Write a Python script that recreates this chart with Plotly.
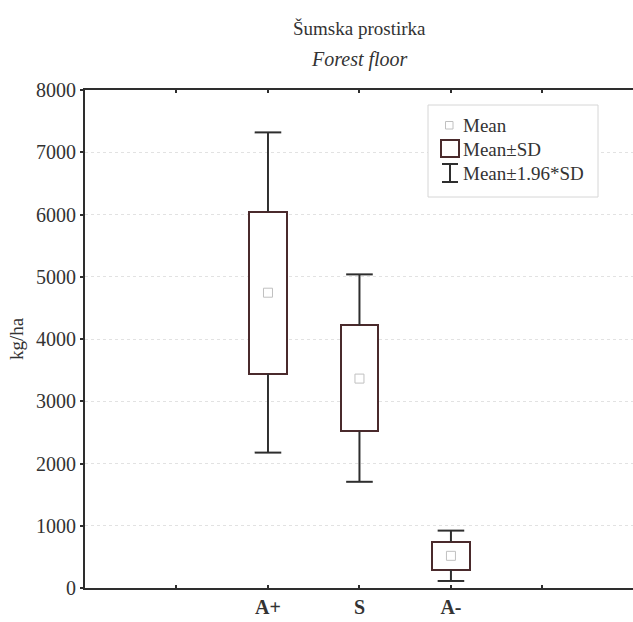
import plotly.graph_objects as go

# ---- data ----
categories = ["A+", "S", "A-"]
means = [4744, 3364, 517]
sd_high = [6047, 4217, 745]
sd_low = [3441, 2516, 290]
ci_high = [7319, 5038, 922]
ci_low = [2175, 1706, 113]
y_ticks = [0, 1000, 2000, 3000, 4000, 5000, 6000, 7000, 8000]

title_main = "Šumska prostirka"
title_sub = "Forest floor"
y_label = "kg/ha"
legend_labels = ["Mean", "Mean±SD", "Mean±1.96*SD"]

# positions of categories on the numeric x axis (ticks at 1..5)
xpos = [i + 2 for i in range(len(categories))]

FONT = "Liberation Serif"
TXT = "#333333"
BOXC = "#4a2a2c"
LINEC = "#2e2e2e"

fig = go.Figure()

# Box (mean ± SD)
fig.add_trace(go.Bar(
    x=xpos, y=[h - l for h, l in zip(sd_high, sd_low)], base=sd_low,
    width=0.41, marker=dict(color="white", line=dict(color=BOXC, width=2)),
    showlegend=False, hoverinfo="skip"))

# whisker stems (mean ± 1.96*SD), drawn from the box edges outwards
wx, wy = [], []
for x, sh, ch, sl, cl in zip(xpos, sd_high, ci_high, sd_low, ci_low):
    wx += [x, x, None, x, x, None]
    wy += [sh, ch, None, sl, cl, None]
fig.add_trace(go.Scatter(x=wx, y=wy, mode="lines", line=dict(color=LINEC, width=2),
                         showlegend=False, hoverinfo="skip"))
# whisker caps
fig.add_trace(go.Scatter(
    x=xpos + xpos, y=ci_high + ci_low, mode="markers",
    marker=dict(symbol="line-ew", size=19, line=dict(color=LINEC, width=2)),
    showlegend=False, hoverinfo="skip"))

# mean markers
fig.add_trace(go.Scatter(
    x=xpos, y=means, mode="markers",
    marker=dict(symbol="square-open", size=9, color="#c0c0c0", line=dict(width=1)),
    showlegend=False, hoverinfo="skip"))

# plot area in pixels
W, H = 633, 622
L, R, T, B = 85, 633, 90, 588


def px(x):
    return (x - L) / (R - L)


def py(y):
    return (B - y) / (B - T)


shapes = []
annotations = []

# legend frame
shapes.append(dict(type="rect", xref="paper", yref="paper",
                   x0=px(428), x1=px(598), y0=py(197), y1=py(105),
                   line=dict(color="#d6d6d6", width=1), fillcolor="white", layer="above"))
# legend icons
shapes.append(dict(type="rect", xref="paper", yref="paper",
                   x0=px(445.5), x1=px(453), y0=py(129), y1=py(121.5),
                   line=dict(color="#c0c0c0", width=1), layer="above"))
shapes.append(dict(type="rect", xref="paper", yref="paper",
                   x0=px(441), x1=px(459), y0=py(157), y1=py(140),
                   line=dict(color=BOXC, width=2), layer="above"))
shapes.append(dict(type="line", xref="paper", yref="paper",
                   x0=px(450), x1=px(450), y0=py(182), y1=py(164),
                   line=dict(color=LINEC, width=2), layer="above"))
shapes.append(dict(type="line", xref="paper", yref="paper",
                   x0=px(442), x1=px(458), y0=py(164), y1=py(164),
                   line=dict(color=LINEC, width=2), layer="above"))
shapes.append(dict(type="line", xref="paper", yref="paper",
                   x0=px(442), x1=px(458), y0=py(182), y1=py(182),
                   line=dict(color=LINEC, width=2), layer="above"))
for lbl, yy in zip(legend_labels, [125, 149, 173]):
    annotations.append(dict(text=lbl, xref="paper", yref="paper", x=px(461), y=py(yy),
                            xanchor="left", yanchor="middle", showarrow=False,
                            font=dict(family=FONT, size=19, color=TXT)))

# titles
annotations.append(dict(text=title_main, xref="paper", yref="paper", x=0.5, y=py(28),
                        xanchor="center", yanchor="middle", showarrow=False,
                        font=dict(family=FONT, size=19, color=TXT)))
annotations.append(dict(text="<i>" + title_sub + "</i>", xref="paper", yref="paper", x=0.5, y=py(60),
                        xanchor="center", yanchor="middle", showarrow=False,
                        font=dict(family=FONT, size=20, color=TXT)))

fig.update_layout(
    width=W, height=H,
    margin=dict(l=L, r=W - R, t=T, b=H - B, pad=0),
    paper_bgcolor="white", plot_bgcolor="white",
    showlegend=False, bargap=0,
    shapes=shapes, annotations=annotations,
    font=dict(family=FONT, color=TXT),
)
fig.update_xaxes(
    range=[0, 5.99], tickmode="array", tickvals=[1, 2, 3, 4, 5],
    ticktext=[""] + categories + [""],
    ticks="inside", ticklen=3, tickwidth=2, tickcolor=LINEC,
    showline=True, linecolor=LINEC, linewidth=2, mirror="ticks",
    showgrid=False, zeroline=False,
    tickfont=dict(family=FONT, size=20, color=TXT, weight="bold"),
    ticklabelstandoff=0,
)
fig.update_yaxes(
    range=[0, 8000], tickmode="array", tickvals=y_ticks,
    ticks="outside", ticklen=3, tickwidth=2, tickcolor=LINEC,
    showline=True, linecolor=LINEC, linewidth=2, mirror=False,
    showgrid=True, gridcolor="#e2e2e2", griddash="dot", gridwidth=1,
    zeroline=False,
    tickfont=dict(family=FONT, size=20, color=TXT),
    title=dict(text=y_label, font=dict(family=FONT, size=19, color=TXT), standoff=7),
)

fig.write_html("out.html", config={"displayModeBar": False},
               post_script="document.body.style.margin='0';")
